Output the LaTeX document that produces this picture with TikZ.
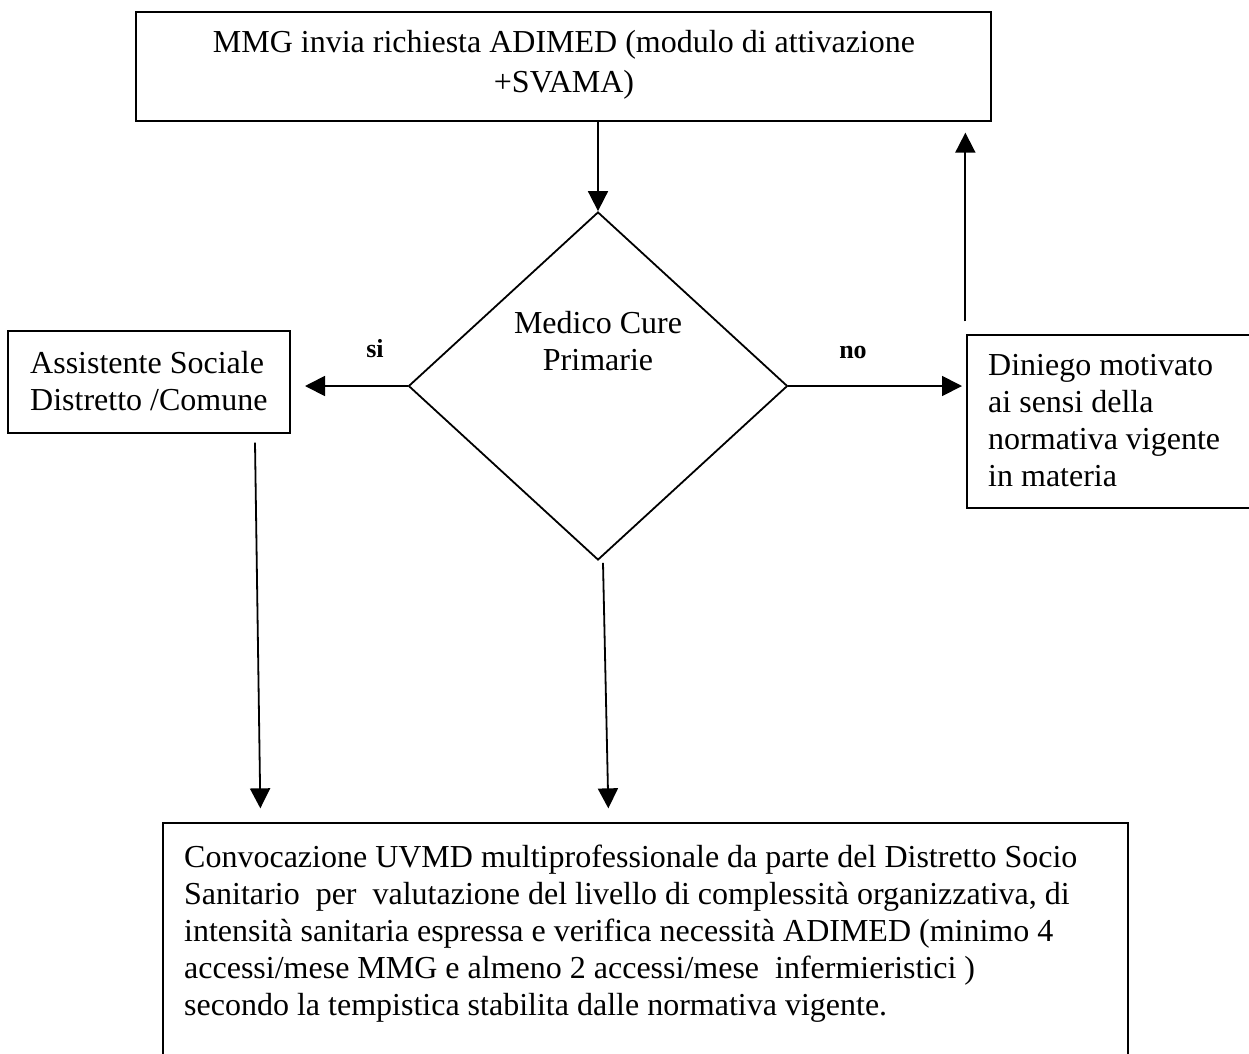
\documentclass[tikz,border=0pt]{standalone}
\usepackage{fontspec}
\setmainfont{Liberation Serif}
\usetikzlibrary{arrows.meta,shapes.geometric,calc}

\begin{document}
\begin{tikzpicture}[x=1pt,y=-1pt,
  frame/.style={draw, line width=1.3pt, inner sep=0pt, rectangle},
  decision/.style={draw, line width=1.8pt, inner sep=0pt, shape=diamond},
  txt/.style={inner sep=0pt, font=\fontsize{32}{37}\selectfont},
  lbl/.style={inner sep=0pt, font=\fontsize{26}{30}\selectfont\bfseries},
  flow/.style={line width=1.8pt, -{Triangle[length=20pt,width=20pt]}},
]
\useasboundingbox (0,0) rectangle (1249,1053);
\fill[white] (0,0) rectangle (1249,1053);

% boxes and decision
\node[frame, minimum width=855pt, minimum height=109pt] (req) at (563.5,66.5) {};
\node[decision, minimum width=379pt, minimum height=348pt] (mcp) at (598,386) {};
\node[frame, minimum width=282pt, minimum height=102pt] (asc) at (149,382) {};
\node[frame, minimum width=320pt, minimum height=173pt] (den) at (1127,421.5) {};
\node[frame, minimum width=965pt, minimum height=252pt] (uvmd) at (645.5,949) {};

% texts
\node[txt, anchor=base] (reqtxt) at (564,52)
  {\parbox[t]{820pt}{\centering\fontsize{32}{40}\selectfont
   MMG invia richiesta ADIMED (modulo di attivazione\\ +SVAMA)}};
\node[txt, anchor=base] (mcptxt) at (598,333)
  {\parbox[t]{320pt}{\centering Medico Cure\\Primarie}};
\node[txt, anchor=base west] (asctxt) at (30,373)
  {\parbox[t]{260pt}{Assistente Sociale\\Distretto /Comune}};
\node[txt, anchor=base west] (dentxt) at (988,375)
  {\parbox[t]{260pt}{Diniego motivato\\ai sensi della\\normativa vigente\\in materia}};
\node[txt, anchor=base west] (uvmdtxt) at (184,867)
  {\parbox[t]{940pt}{Convocazione UVMD multiprofessionale da parte del Distretto Socio\\
   Sanitario\ \ per\ \ valutazione del livello di complessità organizzativa, di\\
   intensità sanitaria espressa e verifica necessità ADIMED (minimo 4\\
   accessi/mese MMG e almeno 2 accessi/mese\ \ infermieristici )\\
   secondo la tempistica stabilita dalle normativa vigente.}};

\node[lbl, anchor=base] (si) at (375,357) {si};
\node[lbl, anchor=base] (no) at (853,358) {no};

% connectors
\coordinate (siEnd) at (305,387);
\coordinate (noEnd) at (962,388);
\coordinate (upStart) at ($(den.north west)+(-1,-13)$);
\coordinate (upEnd) at ($(upStart |- req.south)+(0,11)$);
\coordinate (ascStart) at ($(asc.south)+(106,9)$);
\coordinate (ascEnd) at ($(uvmd.north west)+(98,-14)$);
\coordinate (mcpStart) at ($(mcp.south)+(5,2)$);
\coordinate (mcpEnd) at ($(uvmd.north west)+(446,-14)$);

\draw[flow] (mcp.north |- req.south) -- (mcp.north);
\draw[flow] (mcp.west) -- (mcp.west -| siEnd);
\draw[flow] (mcp.east) -- (mcp.east -| noEnd);
\draw[flow] (upStart) -- (upEnd);
\draw[flow] (ascStart) -- (ascEnd);
\draw[flow] (mcpStart) -- (mcpEnd);
\end{tikzpicture}
\end{document}
